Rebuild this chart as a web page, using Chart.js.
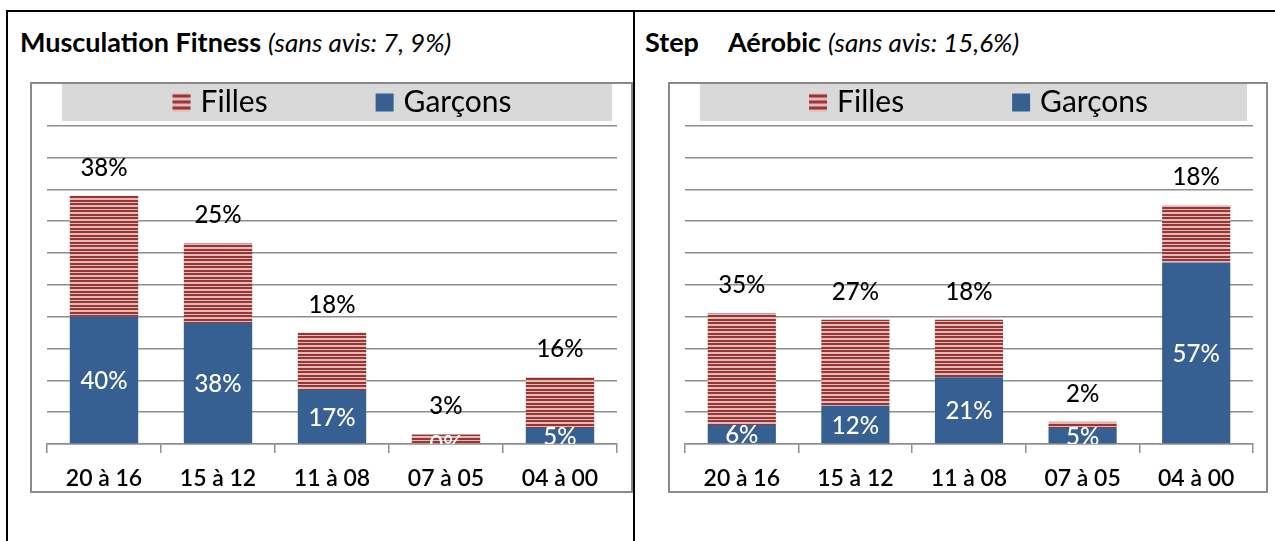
<!DOCTYPE html>
<html><head><meta charset="utf-8">
<script src="https://cdn.jsdelivr.net/npm/chart.js@4.4.0/dist/chart.umd.min.js"></script>
<style>
html,body{margin:0;padding:0;background:#fff;width:1275px;height:541px;overflow:hidden;position:relative;font-family:Lato,"Open Sans",sans-serif;}
.line{position:absolute;background:#000;}
.title{position:absolute;top:27px;white-space:pre;color:#000;line-height:30px;font-size:27px}
.title b{font-weight:700}
.title i{font-style:italic;font-weight:400;font-size:26px}
.frame{position:absolute;top:82px;border:2px solid #8a8a8a;height:407px;}
.wrap{position:relative;width:100%;height:100%}
</style></head><body>
<div class="line" style="left:6px;top:10px;width:1269px;height:2px"></div>
<div class="line" style="left:6px;top:10px;width:2px;height:531px"></div>
<div class="line" style="left:633px;top:10px;width:2px;height:531px"></div>
<div class="title" style="left:20px"><b>Musculation Fitness</b> <i>(sans avis: 7, 9%)</i></div>
<div class="title" style="left:645px"><b>Step</b><b style="margin-left:29px">Aérobic</b> <i>(sans avis: 15,6%)</i></div>
<div class="frame" style="left:30px;width:599px"><div class="wrap"><canvas id="c1"></canvas></div></div>
<div class="frame" style="left:668px;width:596px"><div class="wrap"><canvas id="c2"></canvas></div></div>
<script>
const categories = ["20 à 16", "15 à 12", "11 à 08", "07 à 05", "04 à 00"];
const seriesNames = ["Filles", "Garçons"];
const muscuFilles = [38, 25, 18, 3, 16];
const muscuGarcons = [40, 38, 17, 0, 5];
const stepFilles = [35, 27, 18, 2, 18];
const stepGarcons = [6, 12, 21, 5, 57];
const yMin = 0, yMax = 100, yStep = 10;

const BLUE = '#376092', DARK = '#953735', LIGHT = '#e6b9b8';
const FONT = 'Lato';

function stripePattern(ctx){
  const c = document.createElement('canvas'); c.width = 8; c.height = 7;
  const x = c.getContext('2d');
  const rows = [1,1,0,0,1,1,0];
  rows.forEach((r,i)=>{ x.fillStyle = r ? DARK : LIGHT; x.fillRect(0,i,8,1); });
  return ctx.createPattern(c,'repeat');
}

const decoPlugin = {
  id: 'deco',
  beforeDraw(chart){
    const ctx = chart.ctx, w = chart.width;
    ctx.save();
    ctx.fillStyle = '#fff'; ctx.fillRect(0,0,w,chart.height);
    ctx.fillStyle = '#d9d9d9'; ctx.fillRect(30,0,w-49,37);
    ctx.restore();
  },
  afterDraw(chart){
    const ctx = chart.ctx, w = chart.width;
    const ds = chart.data.datasets;
    const items = [ds[1], ds[0]];
    ctx.save();
    ctx.font = '30px ' + FONT;
    const box = 18, gap = 10, itemGap = 108;
    const widths = items.map(d=>ctx.measureText(d.label).width);
    const total = widths.reduce((a,b)=>a+b,0) + items.length*(box+gap) + itemGap*(items.length-1);
    let x = (30 + w - 19)/2 + 5 - total/2;
    items.forEach((d,i)=>{
      if (i === 1) { ctx.fillStyle = BLUE; ctx.fillRect(x, 9.5, box, box); }
      else {
        ctx.fillStyle = LIGHT; ctx.fillRect(x, 9.5, box, box);
        ctx.fillStyle = DARK;
        for (let k=0;k<3;k++) ctx.fillRect(x, 10.5 + k*6, box, 3);
      }
      ctx.fillStyle = '#000'; ctx.textBaseline = 'alphabetic'; ctx.textAlign = 'left';
      ctx.fillText(d.label, x + box + gap, 28);
      x += box + gap + widths[i] + itemGap;
    });
    ctx.restore();
  },
  afterDatasetsDraw(chart){
    const ctx = chart.ctx, area = chart.chartArea;
    ctx.save();
    ctx.font = '500 24px ' + FONT;
    ctx.textAlign = 'center'; ctx.textBaseline = 'alphabetic';
    ctx.save();
    ctx.beginPath(); ctx.rect(area.left, area.top, area.right-area.left, area.bottom-area.top); ctx.clip();
    const m0 = chart.getDatasetMeta(0);
    m0.data.forEach((el,i)=>{
      const v = chart.data.datasets[0].data[i];
      const cy = (el.y + el.base)/2;
      ctx.fillStyle = '#fff';
      ctx.fillText(v + '%', el.x, cy + 9);
    });
    ctx.restore();
    const m1 = chart.getDatasetMeta(1);
    m1.data.forEach((el,i)=>{
      const v = chart.data.datasets[1].data[i];
      ctx.fillStyle = '#000';
      ctx.fillText(v + '%', el.x, el.y - 20);
    });
    ctx.restore();
  }
};

function makeChart(id, filles, garcons, padRight){
  const canvas = document.getElementById(id);
  const ctx = canvas.getContext('2d');
  return new Chart(ctx, {
    type: 'bar',
    data: {
      labels: categories,
      datasets: [
        { label: seriesNames[1], data: garcons, backgroundColor: BLUE, borderWidth: 0 },
        { label: seriesNames[0], data: filles, backgroundColor: stripePattern(ctx), borderWidth: 0 }
      ]
    },
    options: {
      responsive: true, maintainAspectRatio: false, animation: false,
      devicePixelRatio: 1,
      layout: { padding: { top: 41.7, left: 15, right: padRight, bottom: 0 } },
      datasets: { bar: { categoryPercentage: 1, barPercentage: 0.6 } },
      plugins: { legend: { display: false }, tooltip: { enabled: false }, title: { display: false } },
      scales: {
        x: {
          stacked: true,
          grid: { drawOnChartArea: false, drawTicks: true, tickLength: 9, color: '#8e8e8e', lineWidth: 1.5, offset: true },
          border: { display: true, color: '#8e8e8e', width: 1.5 },
          ticks: { color: '#000', font: { family: FONT, size: 23, weight: 600 }, padding: 12, autoSkip: false, maxRotation: 0 },
          afterFit(scale){ scale.height = 47; }
        },
        y: {
          stacked: true, min: yMin, max: yMax,
          grid: { drawTicks: false, color: '#8e8e8e', lineWidth: 1.5 },
          border: { display: false },
          ticks: { display: false, stepSize: yStep }
        }
      }
    },
    plugins: [decoPlugin]
  });
}
makeChart('c1', muscuFilles, muscuGarcons, 14);
makeChart('c2', stepFilles, stepGarcons, 13);
</script>
</body></html>
